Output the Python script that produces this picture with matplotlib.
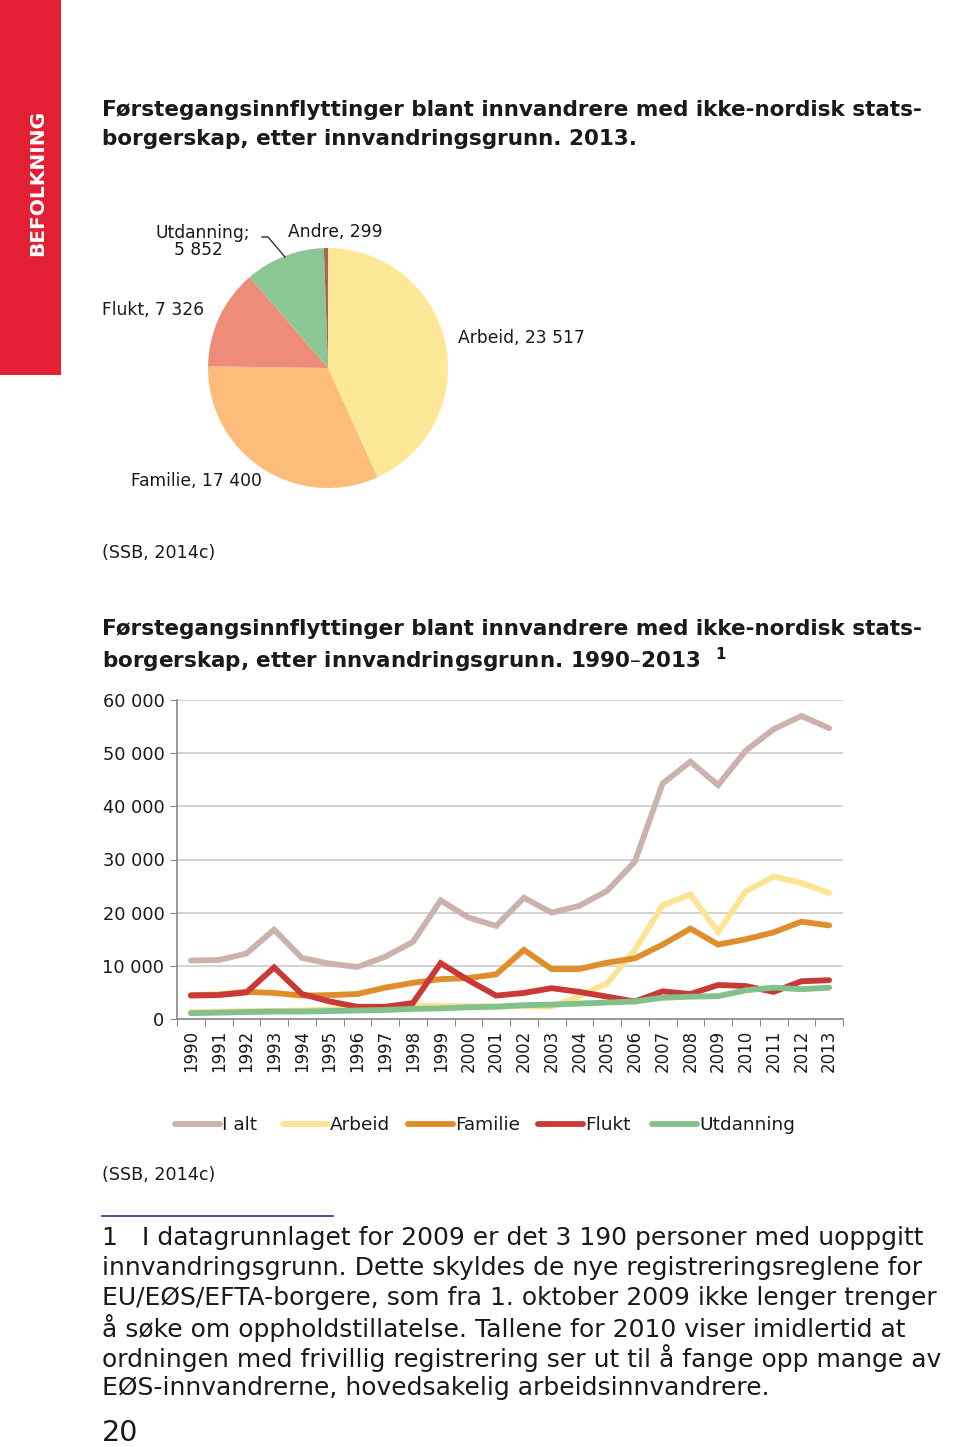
import matplotlib
matplotlib.use('Agg')
from matplotlib import pyplot as plt
from matplotlib.lines import Line2D

# pie data, 2013
pie_labels = ['Arbeid', 'Familie', 'Flukt', 'Utdanning', 'Andre']
pie_values = [23517, 17400, 7326, 5852, 299]
pie_colors = ['#fde898', '#fcbd7b', '#ef8b79', '#8ac794', '#a8645a']

# line data 1990-2013
years = [str(y) for y in range(1990, 2014)]
i_alt = [11000, 11100, 12300, 16800, 11500, 10400, 9800, 11700, 14500, 22300, 19100, 17500,
         22800, 20000, 21300, 24100, 29600, 44300, 48400, 44000, 50500, 54500, 57000, 54700]
arbeid = [1300, 1400, 1500, 1500, 1600, 1800, 2000, 2200, 2500, 2500, 2400, 2400,
          2400, 2300, 4300, 6700, 13000, 21400, 23400, 16400, 24000, 26800, 25600, 23700]
familie = [4500, 4600, 5100, 4900, 4400, 4500, 4700, 5900, 6800, 7500, 7700, 8400,
           13000, 9400, 9400, 10600, 11400, 14000, 17000, 14000, 15000, 16300, 18300, 17600]
flukt = [4400, 4500, 5000, 9700, 4700, 3300, 2300, 2300, 3000, 10500, 7300, 4400,
         4900, 5800, 5100, 4200, 3300, 5200, 4700, 6400, 6200, 5100, 7100, 7300]
utdanning = [1100, 1200, 1300, 1400, 1400, 1500, 1600, 1700, 1900, 2000, 2200, 2300,
             2600, 2700, 2900, 3100, 3300, 4000, 4200, 4300, 5400, 5900, 5600, 5900]
series_names = ['I alt', 'Arbeid', 'Familie', 'Flukt', 'Utdanning']
series_colors = ['#cbb2ac', '#fde493', '#de8f2c', '#c93a37', '#82c18c']
y_ticks = [0, 10000, 20000, 30000, 40000, 50000, 60000]

W, H = 960, 1447
fig = plt.figure(figsize=(W / 100, H / 100), dpi=100)


def box(x, y, w, h):
    return [x / W, 1 - (y + h) / H, w / W, h / H]


def txt(x, y, s, **kw):
    kw.setdefault('va', 'center')
    kw.setdefault('fontsize', 12)
    kw.setdefault('color', '#1a1a1a')
    fig.text(x / W, 1 - y / H, s, **kw)


# red side bar
bar = fig.add_axes(box(0, 0, 61, 375))
bar.set_facecolor('#e21f35')
bar.set_xticks([])
bar.set_yticks([])
for s in bar.spines.values():
    s.set_visible(False)
txt(38, 183, 'BEFOLKNING', rotation=90, ha='center', color='white',
    fontweight='bold', fontsize=14.5)

# first title
txt(102, 110, 'Førstegangsinnflyttinger blant innvandrere med ikke-nordisk stats-',
    fontweight='bold', fontsize=15.5)
txt(102, 139, 'borgerskap, etter innvandringsgrunn. 2013.', fontweight='bold', fontsize=15.5)

# pie
pax = fig.add_axes(box(208, 248, 240, 240))
pax.pie(pie_values, colors=pie_colors, startangle=90, counterclock=False, radius=1)
pax.set_xlim(-1, 1)
pax.set_ylim(-1, 1)
pax.set_aspect('equal')

txt(203, 233, 'Utdanning;', ha='center', fontsize=12.3)
txt(198, 250, '5 852', ha='center', fontsize=12.3)
txt(288, 232, 'Andre, 299', fontsize=12.3)
fig.add_artist(Line2D([262 / W, 268 / W, 285 / W], [1 - 237 / H, 1 - 237 / H, 1 - 257 / H],
                      color='#333333', lw=1))
txt(102, 310, 'Flukt, 7 326', fontsize=12.3)
txt(458, 338, 'Arbeid, 23 517', fontsize=12.3)
txt(131, 481, 'Familie, 17 400', fontsize=12.3)
txt(102, 553, '(SSB, 2014c)', fontsize=12.6)

# second title
txt(102, 629, 'Førstegangsinnflyttinger blant innvandrere med ikke-nordisk stats-',
    fontweight='bold', fontsize=15.5)
txt(102, 660, 'borgerskap, etter innvandringsgrunn. 1990–2013  $^{\\mathbf{1}}$',
    fontweight='bold', fontsize=15.5)

# line chart
ax = fig.add_axes(box(177, 700, 666, 319))
x = list(range(len(years)))
for vals, name, col in zip([i_alt, arbeid, familie, flukt, utdanning], series_names, series_colors):
    ax.plot(x, vals, color=col, lw=4.2, label=name, solid_capstyle='round', solid_joinstyle='miter')
ax.set_xlim(-0.5, len(years) - 0.5)
ax.set_ylim(0, 60000)
ax.set_yticks(y_ticks)
ax.set_yticklabels([f'{v:,}'.replace(',', ' ') for v in y_ticks], fontsize=12.8, color='#1a1a1a')
ax.set_xticks([i - 0.5 for i in range(len(years) + 1)])
ax.set_xticklabels([])
ax.set_xticks(x, minor=True)
ax.set_xticklabels(years, minor=True, rotation=90, fontsize=12, color='#1a1a1a')
ax.tick_params(axis='x', which='minor', length=0, pad=8)
ax.tick_params(axis='x', which='major', length=5, color='#888888', direction='out')
ax.tick_params(axis='y', length=5, color='#888888', pad=4)
ax.grid(axis='y', color='#cccccc', lw=1.2)
ax.set_axisbelow(True)
for s in ['top', 'right']:
    ax.spines[s].set_visible(False)
for s in ['left', 'bottom']:
    ax.spines[s].set_color('#888888')
    ax.spines[s].set_linewidth(1.2)

# legend drawn by hand-placed entries
leg_x = [175, 283, 408, 538, 652]
for lx, name, col in zip(leg_x, series_names, series_colors):
    fig.add_artist(Line2D([lx / W, (lx + 45) / W], [1 - 1124 / H, 1 - 1124 / H],
                          color=col, lw=4.2, solid_capstyle='round'))
    txt(lx + 47, 1125, name, fontsize=13.3)

txt(102, 1175, '(SSB, 2014c)', fontsize=12.6)

# footnote
fig.add_artist(Line2D([102 / W, 333 / W], [1 - 1216 / H, 1 - 1216 / H], color='#1f3a7a', lw=1.2))
foot = ['1   I datagrunnlaget for 2009 er det 3 190 personer med uoppgitt',
        'innvandringsgrunn. Dette skyldes de nye registreringsreglene for',
        'EU/EØS/EFTA-borgere, som fra 1. oktober 2009 ikke lenger trenger',
        'å søke om oppholdstillatelse. Tallene for 2010 viser imidlertid at',
        'ordningen med frivillig registrering ser ut til å fange opp mange av',
        'EØS-innvandrerne, hovedsakelig arbeidsinnvandrere.']
for i, line in enumerate(foot):
    txt(102, 1238 + 30 * i, line, fontsize=18)
txt(102, 1433, '20', fontsize=20.5)

fig.savefig('out.png', dpi=100, facecolor='white')
